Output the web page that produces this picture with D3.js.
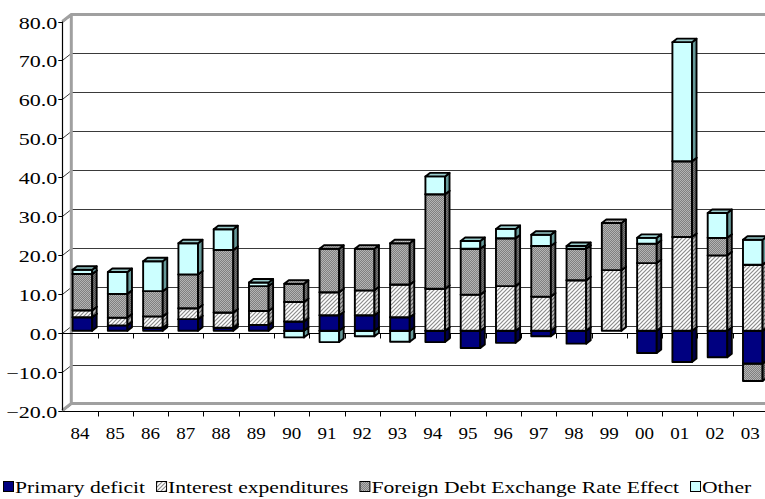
<!DOCTYPE html>
<html>
<head>
<meta charset="utf-8">
<script src="https://cdn.jsdelivr.net/npm/d3@7"></script>
<style>
  html, body { margin: 0; padding: 0; background: #fff; }
  svg { display: block; }
</style>
</head>
<body>
<svg id="chart" width="765" height="499"></svg>
<script>
// Public debt dynamics by component, % points (1984-2003)
const years = ["84","85","86","87","88","89","90","91","92","93","94","95","96","97","98","99","00","01","02","03"];
const primaryDeficit = [3.5, 1.4, 0.8, 3.0, 0.8, 1.5, 2.4, 4.0, 4.0, 3.5, -2.9, -4.4, -3.1, -1.4, -3.3, 0.0, -5.7, -8.0, -6.8, -8.4];
const interestExpenditures = [1.8, 2.0, 2.9, 2.8, 3.9, 3.6, 5.0, 5.9, 6.4, 8.4, 10.8, 9.3, 11.5, 8.8, 13.0, 15.6, 17.4, 24.1, 19.4, 17.0];
const fxEffect = [9.3, 6.1, 6.5, 8.7, 16.1, 6.4, 4.7, 11.2, 10.7, 10.6, 24.3, 11.8, 12.3, 13.0, 8.1, 12.1, 5.0, 19.5, 4.5, -4.5];
const otherEffect = [1.1, 5.6, 7.7, 8.0, 5.3, 0.9, -1.7, -2.9, -1.4, -2.8, 4.6, 2.0, 2.4, 2.9, 0.7, 0.0, 1.5, 30.6, 6.4, 6.4];
const seriesNames = ["Primary deficit", "Interest expenditures", "Foreign Debt Exchange Rate Effect", "Other"];
const yTicks = [-20, -10, 0, 10, 20, 30, 40, 50, 60, 70, 80];

const keys = ["pd", "ie", "fx", "ot"];
const rows = years.map((yr, i) => ({
  year: yr,
  pd: primaryDeficit[i],
  ie: interestExpenditures[i],
  fx: fxEffect[i],
  ot: otherEffect[i]
}));

// pick the first installed Times-like face
function pickFont(candidates) {
  const ctx = document.createElement("canvas").getContext("2d");
  const probe = "mmmmmmmmmmlliWW 0123456789";
  const base = ["monospace", "sans-serif"].map(b => { ctx.font = "72px " + b; return ctx.measureText(probe).width; });
  for (const c of candidates) {
    const ok = ["monospace", "sans-serif"].some((b, k) => {
      ctx.font = `72px "${c}", ${b}`;
      return Math.abs(ctx.measureText(probe).width - base[k]) > 0.5;
    });
    if (ok) return `"${c}", serif`;
  }
  return "serif";
}
const FONT = pickFont(["Liberation Serif", "Tinos", "Times New Roman", "Times", "Nimbus Roman", "Nimbus Roman No9 L",
  "TeX Gyre Termes", "FreeSerif", "DejaVu Serif", "Noto Serif", "Georgia"]);

const svg = d3.select("#chart");
const W = 765, H = 499;

// oblique 3D: full depth of the box, and the slice a column occupies
const DX = 9, DY = -7;
const Z0 = 0.27, Z1 = 0.77;

const x = d3.scaleBand().domain(years).range([62.3, 768]).paddingInner(0).paddingOuter(0);
const y = d3.scaleLinear().domain([-20, 80]).range([410.5, 21.5]);

// text set a little wide, as in the original chart sheet
function label(parent, tx, ty, str, anchor, size, stretch) {
  return parent.append("text")
    .attr("transform", `translate(${tx},${ty}) scale(${stretch},1)`)
    .attr("font-family", FONT).attr("font-size", size)
    .attr("text-anchor", anchor).attr("fill", "#000").text(str);
}

// ---------- fill patterns ----------
const defs = svg.append("defs");
function hatch(id, bg, fg) {
  const p = defs.append("pattern").attr("id", id).attr("patternUnits", "userSpaceOnUse")
    .attr("width", 4).attr("height", 4);
  p.append("rect").attr("width", 4).attr("height", 4).attr("fill", bg);
  p.append("path").attr("d", "M-1,1 l2,-2 M0,4 l4,-4 M3,5 l2,-2")
    .attr("stroke", fg).attr("stroke-width", 1.2);
}
function dots(id, bg, fg) {
  const p = defs.append("pattern").attr("id", id).attr("patternUnits", "userSpaceOnUse")
    .attr("width", 2).attr("height", 2);
  p.append("rect").attr("width", 2).attr("height", 2).attr("fill", bg);
  p.append("rect").attr("x", 0).attr("y", 0).attr("width", 1).attr("height", 1).attr("fill", fg);
  p.append("rect").attr("x", 1).attr("y", 1).attr("width", 1).attr("height", 1).attr("fill", fg);
}
hatch("ieFront", "#ffffff", "#8c8c8c");
hatch("ieSide", "#b8b8b8", "#5a5a5a");
hatch("ieTop", "#e0e0e0", "#8a8a8a");
dots("fxFront", "#808080", "#b4b4b4");
dots("fxSide", "#505050", "#787878");
dots("fxTop", "#a0a0a0", "#c8c8c8");

const faceFill = {
  pd: { front: "#000080", side: "#000048", top: "#000066" },
  ie: { front: "url(#ieFront)", side: "url(#ieSide)", top: "url(#ieTop)" },
  fx: { front: "url(#fxFront)", side: "url(#fxSide)", top: "url(#fxTop)" },
  ot: { front: "#ccffff", side: "#669999", top: "#99cccc" }
};

// ---------- walls, floor and gridlines ----------
const walls = svg.append("g");
const x0 = x.range()[0], xEnd = W + 20;
const wallGray = "#a0a0a0";

// gridlines: back wall plus the diagonal across the side wall
yTicks.forEach(v => {
  const yy = Math.round(y(v)) + 0.5;
  walls.append("line").attr("x1", x0 + DX).attr("x2", xEnd)
    .attr("y1", yy + DY).attr("y2", yy + DY).attr("stroke", "#3a3a3a").attr("stroke-width", 1);
  walls.append("line").attr("x1", x0).attr("y1", yy).attr("x2", x0 + DX).attr("y2", yy + DY)
    .attr("stroke", "#3a3a3a").attr("stroke-width", 1);
});

// wall edges (thick gray)
const topY = y(80), botY = y(-20);
walls.append("path")
  .attr("d", `M${x0},${topY} L${x0 + DX},${topY + DY} L${xEnd},${topY + DY}`)
  .attr("fill", "none").attr("stroke", wallGray).attr("stroke-width", 3);
walls.append("path")
  .attr("d", `M${x0 + DX},${topY + DY} L${x0 + DX},${botY + DY} L${xEnd},${botY + DY} M${x0 + DX},${botY + DY} L${x0},${botY}`)
  .attr("fill", "none").attr("stroke", wallGray).attr("stroke-width", 3);

// category axis along the zero line (front plane)
const zeroY = Math.round(y(0)) + 0.5;
const axisG = svg.append("g");
axisG.append("line").attr("x1", x0).attr("x2", xEnd).attr("y1", zeroY).attr("y2", zeroY)
  .attr("stroke", "#000").attr("stroke-width", 1);
years.forEach(yr => {
  const bx = Math.round(x(yr) + x.bandwidth()) + 0.5;
  axisG.append("line").attr("x1", bx).attr("x2", bx).attr("y1", zeroY).attr("y2", zeroY + 5)
    .attr("stroke", "#000").attr("stroke-width", 1);
});

// ---------- columns ----------
const stacked = d3.stack().keys(keys).offset(d3.stackOffsetDiverging)(rows);
const segments = [];
stacked.forEach(layer => {
  layer.forEach((d, i) => {
    if (d[0] === d[1]) return;
    segments.push({ key: layer.key, i, lo: Math.min(d[0], d[1]), hi: Math.max(d[0], d[1]) });
  });
});
segments.sort((a, b) => a.i - b.i || a.lo - b.lo);

const barW = x.bandwidth() / 1.8;
const depthX = (Z1 - Z0) * DX, depthY = (Z1 - Z0) * DY;
const barsG = svg.append("g");
segments.forEach(s => {
  const cx = x(years[s.i]) + x.bandwidth() / 2 + Z0 * DX;
  const L = cx - barW / 2, R = cx + barW / 2;
  const T = y(s.hi) + Z0 * DY, B = y(s.lo) + Z0 * DY;
  const f = faceFill[s.key];
  const g = barsG.append("g").attr("stroke", "#000").attr("stroke-width", 1.9).attr("stroke-linejoin", "round");
  g.append("path").attr("d", `M${L},${B} L${L},${T} L${R},${T} L${R},${B} Z`).attr("fill", f.front);
  g.append("path").attr("d", `M${R},${B} L${R},${T} L${R + depthX},${T + depthY} L${R + depthX},${B + depthY} Z`).attr("fill", f.side);
  g.append("path").attr("d", `M${L},${T} L${L + depthX},${T + depthY} L${R + depthX},${T + depthY} L${R},${T} Z`).attr("fill", f.top);
});

// ---------- value axis ----------
const yAxisG = svg.append("g");
yAxisG.append("line").attr("x1", Math.round(x0) + 0.5).attr("x2", Math.round(x0) + 0.5)
  .attr("y1", topY).attr("y2", botY).attr("stroke", "#000").attr("stroke-width", 1.2);
yTicks.forEach(v => {
  const yy = Math.round(y(v)) + 0.5;
  yAxisG.append("line").attr("x1", x0 - 4).attr("x2", x0).attr("y1", yy).attr("y2", yy)
    .attr("stroke", "#000").attr("stroke-width", 1);
  label(yAxisG, x0 - 5, yy + 6, d3.format(".1f")(v), "end", 17, 1.3);
});

// bottom category axis with labels
const baseY = Math.round(botY) + 0.5;
axisG.append("line").attr("x1", x0).attr("x2", xEnd).attr("y1", baseY).attr("y2", baseY)
  .attr("stroke", "#000").attr("stroke-width", 1);
years.forEach(yr => {
  const bx = Math.round(x(yr) + x.bandwidth()) + 0.5;
  axisG.append("line").attr("x1", bx).attr("x2", bx).attr("y1", baseY).attr("y2", baseY + 5)
    .attr("stroke", "#000").attr("stroke-width", 1);
  label(axisG, x(yr) + x.bandwidth() / 2, 439, yr, "middle", 17, 1.12);
});

// ---------- legend ----------
const legend = svg.append("g");
const legendFills = ["#000080", "url(#ieFront)", "url(#fxFront)", "#ccffff"];
const LSTRETCH = 1.27;
let lx = 3;
seriesNames.forEach((name, i) => {
  legend.append("rect").attr("x", lx + 0.5).attr("y", 481.5).attr("width", 10).attr("height", 10)
    .attr("fill", legendFills[i]).attr("stroke", "#000").attr("stroke-width", 1);
  const t = label(legend, lx + 12, 493, name, "start", 17, LSTRETCH);
  lx += 12 + t.node().getComputedTextLength() * LSTRETCH + 11;
});
</script>
</body>
</html>
